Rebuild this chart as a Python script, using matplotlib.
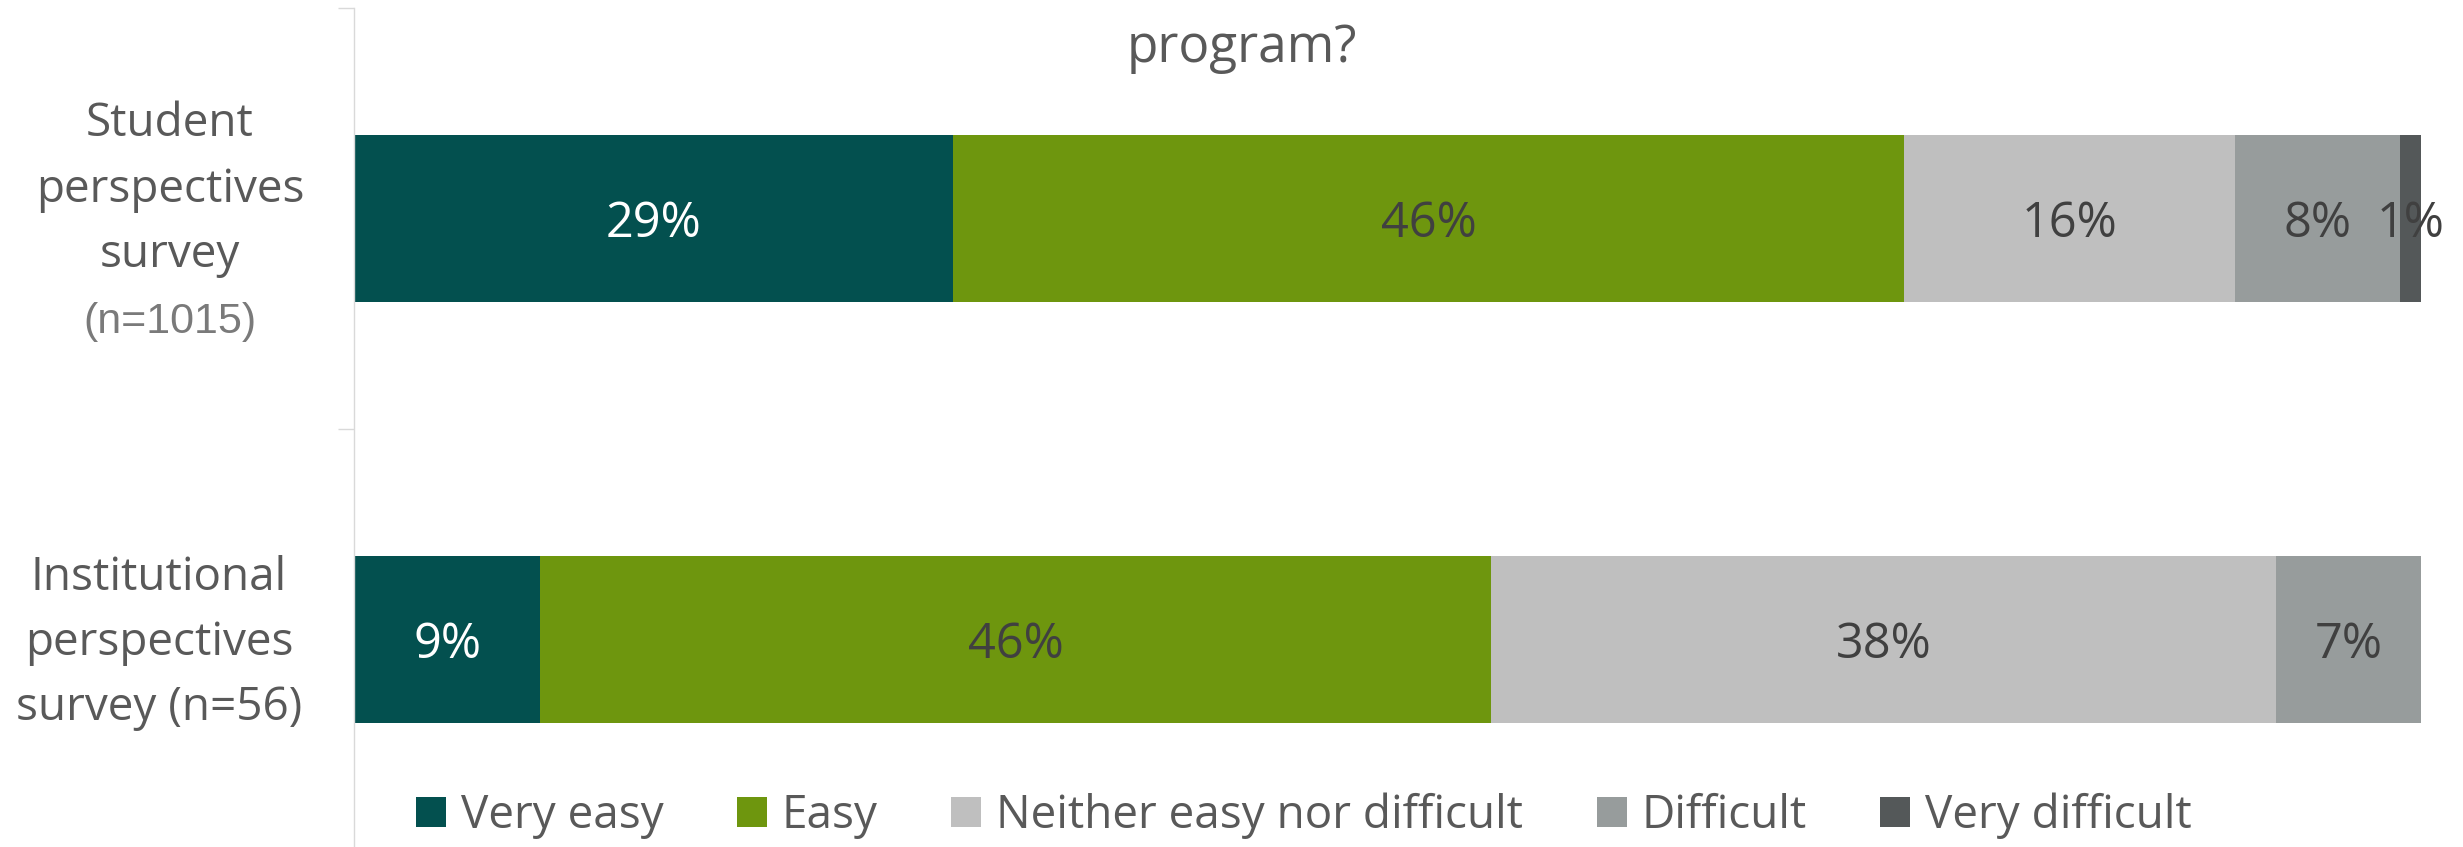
import numpy as np
import matplotlib
matplotlib.use("Agg")
import matplotlib.pyplot as plt
from matplotlib.lines import Line2D

# survey responses, percent of respondents
categories = ["Very easy", "Easy", "Neither easy nor difficult", "Difficult", "Very difficult"]
student = [29, 46, 16, 8, 1]
institutional = [9, 46, 38, 7, 0]
colors = ["#03504F", "#6E960E", "#BFBFBF", "#979C9C", "#545859"]
label_colors = ["white", "#404040", "#404040", "#404040", "#404040"]

W, H = 2463, 847
plt.rcParams['font.family'] = ['Open Sans', 'DejaVu Sans']

fig = plt.figure(figsize=(W / 100, H / 100), dpi=100)


def px(x, y):
    # figure fraction from pixel position (origin top left)
    return x / W, 1 - y / H


ax = fig.add_axes([354 / W, (H - 850) / H, (2421 - 354) / W, (850 - 8) / H])
ax.set_xlim(0, 100)
ax.set_ylim(1.5, -0.5)

rows = [student, institutional]
for yi, row in enumerate(rows):
    left = 0
    for val, c, tc in zip(row, colors, label_colors):
        if val > 0:
            ax.barh(yi, val, left=left, height=0.397, color=c, linewidth=0)
            ax.text(left + val / 2, yi, f"{val}%", ha="center", va="center_baseline",
                    fontsize=35, color=tc)
        left += val

for s in ["top", "right", "bottom"]:
    ax.spines[s].set_visible(False)
ax.spines["left"].set_color("#D9D9D9")
ax.spines["left"].set_linewidth(1.0)
ax.set_xticks([])
ax.set_yticks([-0.5, 0.5, 1.5])
ax.set_yticklabels([])
ax.tick_params(axis="y", length=11.5, width=1.0, color="#D9D9D9", direction="out")

# category labels
txt = "#595959"
for line, yb in zip(["Student", "perspectives", "survey"], [136, 202, 267]):
    fig.text(*px(170, yb), line, ha="center", va="baseline", fontsize=33, color=txt)
fig.text(*px(170, 333), "(n=1015)", ha="center", va="baseline", fontsize=31,
         color="#7A7A7A", family=["Liberation Sans", "DejaVu Sans"])
for line, yb in zip(["Institutional", "perspectives", "survey (n=56)"], [590, 655, 720]):
    fig.text(*px(159, yb), line, ha="center", va="baseline", fontsize=33, color=txt)

# what remains of the chart title
fig.text(*px(1242, 62), "program?", ha="center", va="baseline", fontsize=37, color=txt)

handles = [Line2D([], [], marker="s", linestyle="none", markersize=21, color=c,
                  markeredgewidth=0) for c in colors]
fig.legend(handles, categories, loc="center left", bbox_to_anchor=px(415, 816),
           ncol=5, frameon=False, fontsize=33, labelcolor=txt, handlelength=0.7,
           handletextpad=0.3, columnspacing=1.58, borderpad=0, borderaxespad=0)

fig.savefig("out.png", dpi=100)
